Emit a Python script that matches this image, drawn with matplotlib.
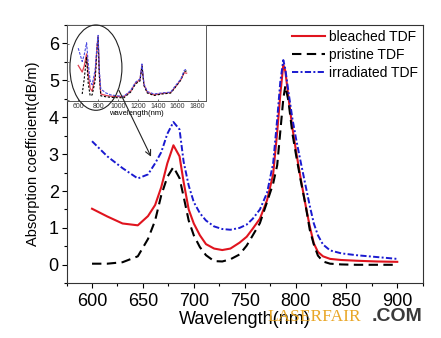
"""Absorption spectra of TDF samples (bleached / pristine / irradiated).

Main panel: 600-900 nm absorption coefficient; inset: full 600-1700 nm
spectrum with the zoomed region circled.
"""
import matplotlib
matplotlib.use("Agg")
import matplotlib.pyplot as plt
import numpy as np
from matplotlib.patches import Ellipse
from matplotlib.ticker import MultipleLocator

plt.rcParams["font.family"] = ["Liberation Sans", "DejaVu Sans"]

# ---------------------------------------------------------------------------
# Data
# ---------------------------------------------------------------------------
wavelength = [600, 615, 630, 645, 655, 662, 668, 674, 680, 686, 690, 695,
              700, 706, 712, 720, 728, 736, 745, 752, 758, 765, 772, 778,
              782, 785, 788, 790, 793, 797, 801, 805, 810, 814, 818, 822,
              827, 834, 845, 860, 880, 900]
bleached = [1.52, 1.31, 1.12, 1.07, 1.32, 1.62, 2.10, 2.75, 3.24, 2.94, 2.25,
            1.50, 1.12, 0.80, 0.56, 0.44, 0.40, 0.44, 0.60, 0.76, 0.98, 1.25,
            1.75, 2.45, 3.60, 4.60, 5.43, 5.25, 4.55, 3.70, 3.00, 2.35, 1.60,
            1.04, 0.58, 0.35, 0.23, 0.16, 0.13, 0.11, 0.09, 0.08]
pristine = [0.03, 0.03, 0.07, 0.23, 0.70, 1.20, 1.88, 2.38, 2.65, 2.35, 1.85,
            1.20, 0.80, 0.48, 0.26, 0.10, 0.09, 0.15, 0.28, 0.52, 0.80, 1.13,
            1.70, 2.20, 2.70, 3.60, 4.50, 4.85, 4.45, 3.55, 2.90, 2.30, 1.60,
            0.95, 0.55, 0.25, 0.09, 0.03, 0.01, 0.00, 0.00, 0.00]
irradiated = [3.35, 2.94, 2.62, 2.34, 2.45, 2.75, 3.05, 3.55, 3.87, 3.67,
              2.80, 2.15, 1.70, 1.40, 1.20, 1.04, 0.97, 0.95, 1.00, 1.09,
              1.25, 1.50, 1.95, 2.75, 3.95, 4.95, 5.55, 5.30, 4.70, 3.95,
              3.35, 2.80, 2.13, 1.60, 1.12, 0.80, 0.55, 0.39, 0.31, 0.26,
              0.21, 0.16]

# inset: full spectrum, arbitrary units
inset_wavelength = [600, 640, 660, 684, 700, 720, 740, 770, 790, 800, 812,
                    827, 877, 927, 993, 1060, 1127, 1177, 1221, 1241, 1261,
                    1295, 1362, 1445, 1530, 1565, 1632, 1666, 1690]
inset_bleached = [1.84, 1.48, 1.80, 2.46, 1.40, 0.60, 0.45, 1.30, 2.90, 3.40,
                  1.40, 0.30, 0.22, 0.18, 0.16, 0.16, 0.44, 0.90, 1.07, 1.85,
                  0.80, 0.40, 0.25, 0.33, 0.38, 0.60, 1.07, 1.45, 1.42]
inset_pristine = [np.nan, 0.30, 1.10, 2.30, 0.90, 0.20, 0.25, 1.00, 2.80,
                  3.35, 1.30, 0.20, 0.15, 0.12, 0.10, 0.10, 0.40, 0.85, 1.00,
                  1.80, 0.75, 0.35, 0.22, 0.30, 0.35, 0.58, 1.05, 1.50, 1.55]
inset_irradiated = [2.77, 2.05, 2.40, 3.06, 2.00, 1.00, 0.80, 1.60, 3.00,
                    3.46, 1.60, 0.57, 0.36, 0.25, 0.20, 0.18, 0.49, 0.94,
                    1.11, 1.92, 0.84, 0.43, 0.30, 0.36, 0.40, 0.66, 1.11,
                    1.57, 1.65]

labels = ["bleached TDF", "pristine TDF", "irradiated TDF"]

RED = "#e0141e"
BLUE = "#1a1ad0"


def main() -> None:
    fig = plt.figure(figsize=(4.41, 3.38), dpi=100)
    ax = fig.add_axes([0.151, 0.162, 0.8075, 0.764])

    ax.plot(wavelength, bleached, color=RED, lw=1.5, label=labels[0])
    ax.plot(wavelength, pristine, color="black", lw=1.5, dashes=(4.5, 2.6),
            label=labels[1])
    ax.plot(wavelength, irradiated, color=BLUE, lw=1.4,
            dashes=(3.2, 1.2, 1.0, 1.2), label=labels[2])

    ax.set_xlim(575, 925)
    ax.set_ylim(-0.5, 6.5)
    ax.xaxis.set_major_locator(MultipleLocator(50))
    ax.xaxis.set_minor_locator(MultipleLocator(25))
    ax.yaxis.set_major_locator(MultipleLocator(1))
    ax.yaxis.set_minor_locator(MultipleLocator(0.5))
    ax.tick_params(which="major", direction="out", length=3.6, width=0.8,
                   labelsize=13, pad=2, top=False, right=False)
    ax.tick_params(axis="x", which="major", pad=3.5)
    ax.tick_params(which="minor", direction="out", length=2, width=0.8,
                   top=False, right=False)
    for sp in ax.spines.values():
        sp.set_linewidth(0.8)
        sp.set_color("#333333")
    ax.set_xlabel("Wavelength(nm)", fontsize=13, labelpad=1)
    ax.set_ylabel("Absorption coefficient(dB/m)", fontsize=10.5, labelpad=6)

    ax.legend(loc="upper right", bbox_to_anchor=(1.0, 1.0), frameon=False,
              fontsize=10, handlelength=2.4, handletextpad=0.25,
              labelspacing=0.28, borderaxespad=0.15, borderpad=0.2)

    # inset with full spectrum
    ins = fig.add_axes([0.151, 0.700, 0.315, 0.225])
    ins.plot(inset_wavelength, inset_bleached, color="#e04050", lw=0.9)
    ins.plot(inset_wavelength, inset_pristine, color="black", lw=0.8,
             dashes=(2, 1.5))
    ins.plot(inset_wavelength, inset_irradiated, color="#4a4ae0", lw=0.8,
             dashes=(2.5, 1.2))
    ins.set_xlim(483, 1880)
    ins.set_ylim(-0.1, 4.0)
    ins.xaxis.set_major_locator(MultipleLocator(200))
    ins.yaxis.set_major_locator(MultipleLocator(1))
    ins.set_yticklabels([])
    ins.tick_params(direction="in", length=1.5, width=0.5, labelsize=5,
                    pad=0.8, colors="#333333")
    for sp in ins.spines.values():
        sp.set_linewidth(0.7)
        sp.set_color("#555555")
    ins.set_xlabel("wavelength(nm)", fontsize=5.5, labelpad=0)

    ell = Ellipse((778, 1.72), width=523, height=4.6, fill=False,
                  edgecolor="#222222", lw=0.8, clip_on=False, zorder=5)
    ins.add_patch(ell)
    ins.annotate("", xy=(658, 2.93), xycoords=ax.transData,
                 xytext=(1009, 0.5), textcoords="data",
                 arrowprops=dict(arrowstyle="->", color="#222222", lw=0.8,
                                 shrinkA=0, shrinkB=0),
                 annotation_clip=False)

    # site watermark
    fig.text(0.607, 0.063, "LASERFAIR", fontsize=12.5,
             family="Liberation Serif", color="#e8a21c", alpha=0.95,
             ha="left", va="center")
    fig.text(0.843, 0.063, ".COM", fontsize=14, fontweight="bold",
             color="#3a3a3a", ha="left", va="center")

    fig.savefig("out.png", dpi=100)
    plt.close(fig)


if __name__ == "__main__":
    main()
